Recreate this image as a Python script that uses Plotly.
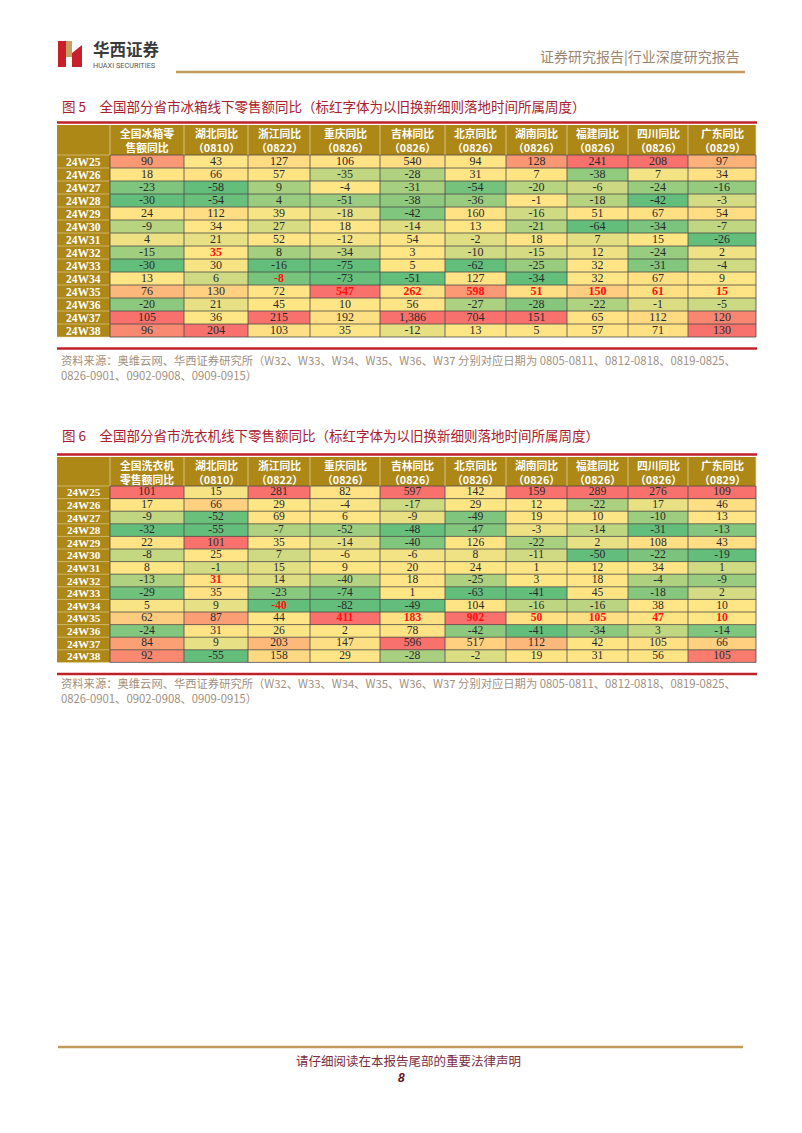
import plotly.graph_objects as go
import numpy as np

# ---------------- data ----------------
weeks = ["24W25", "24W26", "24W27", "24W28", "24W29", "24W30", "24W31",
         "24W32", "24W33", "24W34", "24W35", "24W36", "24W37", "24W38"]

provinces = ["湖北", "浙江", "重庆", "吉林", "北京", "湖南", "福建", "四川", "广东"]
start_dates = ["0810", "0822", "0826", "0826", "0826", "0826", "0826", "0826", "0829"]
policy_weeks = ["24W32", "24W34", "24W35", "24W35", "24W35", "24W35", "24W35", "24W35", "24W35"]

fridge_national = [90, 18, -23, -30, 24, -9, 4, -15, -30, 13, 76, -20, 105, 96]
fridge_hubei = [43, 66, -58, -54, 112, 34, 21, 35, 30, 6, 130, 21, 36, 204]
fridge_zhejiang = [127, 57, 9, 4, 39, 27, 52, 8, -16, -8, 72, 45, 215, 103]
fridge_chongqing = [106, -35, -4, -51, -18, 18, -12, -34, -75, -73, 547, 10, 192, 35]
fridge_jilin = [540, -28, -31, -38, -42, -14, 54, 3, 5, -51, 262, 56, 1386, -12]
fridge_beijing = [94, 31, -54, -36, 160, 13, -2, -10, -62, 127, 598, -27, 704, 13]
fridge_hunan = [128, 7, -20, -1, -16, -21, 18, -15, -25, -34, 51, -28, 151, 5]
fridge_fujian = [241, -38, -6, -18, 51, -64, 7, 12, 32, 32, 150, -22, 65, 57]
fridge_sichuan = [208, 7, -24, -42, 67, -34, 15, -24, -31, 67, 61, -1, 112, 71]
fridge_guangdong = [97, 34, -16, -3, 54, -7, -26, 2, -4, 9, 15, -5, 120, 130]

washer_national = [101, 17, -9, -32, 22, -8, 8, -13, -29, 5, 62, -24, 84, 92]
washer_hubei = [15, 66, -52, -55, 101, 25, -1, 31, 35, 9, 87, 31, 9, -55]
washer_zhejiang = [281, 29, 69, -7, 35, 7, 15, 14, -23, -40, 44, 26, 203, 158]
washer_chongqing = [82, -4, 6, -52, -14, -6, 9, -40, -74, -82, 411, 2, 147, 29]
washer_jilin = [597, -17, -9, -48, -40, -6, 20, 18, 1, -49, 183, 78, 596, -28]
washer_beijing = [142, 29, -49, -47, 126, 8, 24, -25, -63, 104, 902, -42, 517, -2]
washer_hunan = [159, 12, 19, -3, -22, -11, 1, 3, -41, -16, 50, -41, 112, 19]
washer_fujian = [289, -22, 10, -14, 2, -50, 12, 18, 45, -16, 105, -34, 42, 31]
washer_sichuan = [276, 17, -10, -31, 108, -22, 34, -4, -18, 38, 47, 3, 105, 56]
washer_guangdong = [109, 46, 13, -13, 43, -19, 1, -9, 2, 10, 10, -14, 66, 105]

fridge_cols = [fridge_national, fridge_hubei, fridge_zhejiang, fridge_chongqing, fridge_jilin,
               fridge_beijing, fridge_hunan, fridge_fujian, fridge_sichuan, fridge_guangdong]
washer_cols = [washer_national, washer_hubei, washer_zhejiang, washer_chongqing, washer_jilin,
               washer_beijing, washer_hunan, washer_fujian, washer_sichuan, washer_guangdong]

fridge_title = "图 5　全国部分省市冰箱线下零售额同比（标红字体为以旧换新细则落地时间所属周度）"
washer_title = "图 6　全国部分省市洗衣机线下零售额同比（标红字体为以旧换新细则落地时间所属周度）"
fridge_first_header = "全国冰箱零<br>售额同比"
washer_first_header = "全国洗衣机<br>零售额同比"
source_line1 = "资料来源：奥维云网、华西证券研究所（W32、W33、W34、W35、W36、W37 分别对应日期为 0805-0811、0812-0818、0819-0825、"
source_line2 = "0826-0901、0902-0908、0909-0915）"

# ---------------- style / layout ----------------
W, H = 802, 1133
OFF = 8  # browser body margin; the figure starts at page pixel 8
COL_EDGES = [57, 110, 184, 248, 310, 380, 445, 506, 567, 628, 688, 756]
GOLD_BG = "#AD8816"
RED_LINE = "#C0202A"
TITLE_COLOR = "#A8202E"
SRC_COLOR = "#A09080"
GRID = "#4a4a4a"
CJK = "Noto Sans CJK SC"
SERIF = "Liberation Serif, Noto Sans CJK SC"
COLORSCALE = [[0.0, "#63BE7B"], [0.5, "#FFE685"], [0.75, "#FFDC82"],
              [0.9, "#FBA576"], [1.0, "#F8716C"]]

fig = go.Figure()
shapes = []
annotations = []


def norm_column(vals):
    v = np.array(vals, dtype=float)
    lo, hi, mid = v.min(), v.max(), np.median(v)
    out = np.empty_like(v)
    for i, x in enumerate(v):
        if x >= mid:
            out[i] = 0.5 + 0.5 * (x - mid) / (hi - mid) if hi > mid else 0.5
        else:
            out[i] = 0.5 * (x - lo) / (mid - lo) if mid > lo else 0.5
    return out


def draw_table(top, header_h, row_h, first_header, cols, title, title_y, src_y, fsize):
    ncol = len(cols)
    nrow = len(weeks)
    data_top = top + header_h
    row_edges = [data_top + i * row_h for i in range(nrow + 1)]
    bottom = row_edges[-1]
    x_edges = COL_EDGES[1:]
    z = np.column_stack([norm_column(c) for c in cols])
    fig.add_trace(go.Heatmap(
        x=x_edges, y=row_edges, z=z, zmin=0, zmax=1, colorscale=COLORSCALE,
        showscale=False, hoverinfo="skip"))
    xc = [(COL_EDGES[j + 1] + COL_EDGES[j + 2]) / 2 for j in range(ncol)]
    yc = [(row_edges[i] + row_edges[i + 1]) / 2 for i in range(nrow)]
    nx, ny, nt, rx, ry, rt = [], [], [], [], [], []
    for j, col in enumerate(cols):
        hl_week = policy_weeks[j - 1] if j > 0 else None
        for i, val in enumerate(col):
            s = f"{val:,}"
            if hl_week is not None and weeks[i] == hl_week:
                rx.append(xc[j]); ry.append(yc[i]); rt.append(s)
            else:
                nx.append(xc[j]); ny.append(yc[i]); nt.append(s)
    fig.add_trace(go.Scatter(x=nx, y=ny, text=nt, mode="text", hoverinfo="skip",
                             textfont=dict(family=SERIF, size=fsize, color="#2a2a2a")))
    fig.add_trace(go.Scatter(x=rx, y=ry, text=rt, mode="text", hoverinfo="skip",
                             textfont=dict(family=SERIF, size=fsize, color="#FF1010", weight="bold")))
    shapes.append(dict(type="rect", x0=COL_EDGES[0], x1=COL_EDGES[-1], y0=top, y1=data_top,
                       fillcolor=GOLD_BG, line_width=0, layer="below"))
    shapes.append(dict(type="rect", x0=COL_EDGES[0], x1=COL_EDGES[1], y0=data_top, y1=bottom,
                       fillcolor=GOLD_BG, line_width=0, layer="below"))
    for ye in row_edges:
        shapes.append(dict(type="line", x0=COL_EDGES[1], x1=COL_EDGES[-1], y0=ye, y1=ye,
                           line=dict(color=GRID, width=0.8)))
        shapes.append(dict(type="line", x0=COL_EDGES[0], x1=COL_EDGES[1], y0=ye, y1=ye,
                           line=dict(color="#E6D4A0", width=0.6)))
    for xe in COL_EDGES[1:]:
        shapes.append(dict(type="line", x0=xe, x1=xe, y0=data_top, y1=bottom,
                           line=dict(color=GRID, width=0.8)))
        shapes.append(dict(type="line", x0=xe, x1=xe, y0=top, y1=data_top,
                           line=dict(color="#EADBB0", width=0.7)))
    headers = [first_header] + [f"{p}同比<br>（{d}）" for p, d in zip(provinces, start_dates)]
    for j, h in enumerate(headers):
        annotations.append(dict(x=xc[j], y=top + header_h / 2, text=f"<b>{h}</b>",
                                showarrow=False, xanchor="center", yanchor="middle",
                                font=dict(family=CJK, size=10.8, color="white")))
    for i, wk in enumerate(weeks):
        annotations.append(dict(x=(COL_EDGES[0] + COL_EDGES[1]) / 2, y=yc[i], text=f"<b>{wk}</b>",
                                showarrow=False, xanchor="center", yanchor="middle",
                                font=dict(family=SERIF, size=fsize - 0.5, color="white")))
    annotations.append(dict(x=60, y=title_y, text=title, showarrow=False, xanchor="left",
                            yanchor="middle", font=dict(family=CJK, size=13.5, color=TITLE_COLOR)))
    shapes.append(dict(type="line", x0=57, x1=757, y0=top - 2.5, y1=top - 2.5,
                       line=dict(color=RED_LINE, width=2.5)))
    shapes.append(dict(type="line", x0=57, x1=757, y0=bottom + 11.5, y1=bottom + 11.5,
                       line=dict(color=RED_LINE, width=2.5)))
    annotations.append(dict(x=59, y=src_y, text=source_line1, showarrow=False, xanchor="left",
                            yanchor="middle", font=dict(family=CJK, size=11.3, color=SRC_COLOR)))
    annotations.append(dict(x=59, y=src_y + 14.5, text=source_line2, showarrow=False, xanchor="left",
                            yanchor="middle", font=dict(family=CJK, size=11.3, color=SRC_COLOR)))


draw_table(125, 30, 13.0, fridge_first_header, fridge_cols, fridge_title, 106, 360, 12)
draw_table(457, 29, 12.6, washer_first_header, washer_cols, washer_title, 435, 683, 11.6)

shapes += [
    dict(type="rect", x0=58, x1=66, y0=41, y1=67, fillcolor="#C8202A", line_width=0),
    dict(type="rect", x0=66, x1=72, y0=41, y1=57, fillcolor="#C9A063", line_width=0),
    dict(type="path", path="M 72 53 L 82 45 L 82 67 L 72 67 Z", fillcolor="#C8202A", line_width=0),
    dict(type="line", x0=176, x1=745, y0=72, y1=72, line=dict(color="#C49A5C", width=2.5)),
    dict(type="line", x0=58, x1=743, y0=1047, y1=1047, line=dict(color="#C49A5C", width=2.5)),
]
annotations += [
    dict(x=91, y=49, text="<b>华西证券</b>", showarrow=False, xanchor="left", yanchor="middle",
         font=dict(family=CJK, size=16.5, color="#3a3a3a")),
    dict(x=91, y=65.5, text="HUAXI SECURITIES", showarrow=False, xanchor="left", yanchor="middle",
         font=dict(family="Roboto", size=7.3, color="#555555")),
    dict(x=742, y=56, text="证券研究报告|行业深度研究报告", showarrow=False, xanchor="right",
         yanchor="middle", font=dict(family=CJK, size=14, color="#9C8570")),
    dict(x=408, y=1060, text="请仔细阅读在本报告尾部的重要法律声明", showarrow=False, xanchor="center",
         yanchor="middle", font=dict(family=CJK, size=12.5, color="#7B2C3F")),
    dict(x=401, y=1078, text="<b><i>8</i></b>", showarrow=False, xanchor="center",
         yanchor="middle", font=dict(family="Liberation Sans", size=12, color="#5A1420")),
]

fig.update_layout(
    width=W - OFF, height=H - OFF, margin=dict(l=0, r=0, t=0, b=0),
    paper_bgcolor="white", plot_bgcolor="white", showlegend=False,
    xaxis=dict(range=[OFF, W], visible=False, fixedrange=True),
    yaxis=dict(range=[H, OFF], visible=False, fixedrange=True),
    shapes=shapes, annotations=annotations,
)
fig.write_html("out.html")
